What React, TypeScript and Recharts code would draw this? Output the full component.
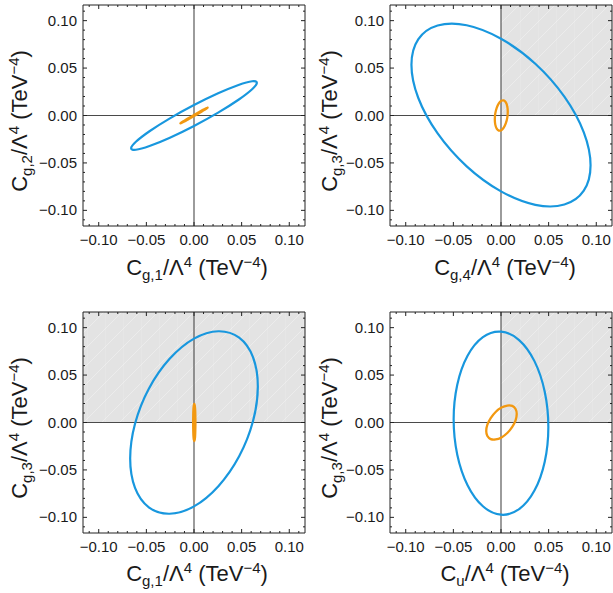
import { ComposedChart, Line, XAxis, YAxis, ReferenceLine, ReferenceArea } from 'recharts';

// axis range and ticks (same for every panel)
const DOMAIN: [number, number] = [-0.1165, 0.1165];
const TICKS = [
  -0.11, -0.1, -0.09, -0.08, -0.07, -0.06, -0.05, -0.04, -0.03, -0.02, -0.01, 0,
  0.01, 0.02, 0.03, 0.04, 0.05, 0.06, 0.07, 0.08, 0.09, 0.1, 0.11,
];
const MAJOR_TICKS = [-0.1, -0.05, 0, 0.05, 0.1];

// contour points, [x, y]
const TL_BLUE = [
  [0.066, 0.0345], [0.061, 0.0361], [0.0467, 0.0322], [0.0253, 0.0234],
  [0.0, 0.011], [-0.0253, -0.003], [-0.0467, -0.0166], [-0.061, -0.0277],
  [-0.066, -0.0345], [-0.061, -0.0361], [-0.0467, -0.0322], [-0.0253, -0.0234],
  [0.0, -0.011], [0.0253, 0.003], [0.0467, 0.0166], [0.061, 0.0277],
];
const TL_ORANGE = [
  [0.0143, 0.0082], [0.0132, 0.0078], [0.0101, 0.0062], [0.0055, 0.0036],
  [0.0, 0.0005], [-0.0055, -0.0027], [-0.0101, -0.0055], [-0.0132, -0.0074],
  [-0.0143, -0.0082], [-0.0132, -0.0078], [-0.0101, -0.0062], [-0.0055, -0.0036],
  [0.0, -0.0005], [0.0055, 0.0027], [0.0101, 0.0055], [0.0132, 0.0074],
];
const TR_BLUE = [
  [0.094, -0.0525], [0.0869, -0.0177], [0.0665, 0.0199], [0.036, 0.0546],
  [0.0, 0.081], [-0.036, 0.0952], [-0.0665, 0.0949], [-0.0869, 0.0803],
  [-0.094, 0.0535], [-0.0869, 0.0187], [-0.0665, -0.0189], [-0.036, -0.0536],
  [0.0, -0.08], [0.036, -0.0942], [0.0665, -0.0939], [0.0869, -0.0793],
];
const TR_ORANGE = [
  [0.0071, 0.004], [0.0066, 0.0096], [0.0051, 0.0138], [0.0029, 0.0159],
  [0.0003, 0.0155], [-0.0023, 0.0128], [-0.0045, 0.0081], [-0.006, 0.0022],
  [-0.0065, -0.004], [-0.006, -0.0096], [-0.0045, -0.0138], [-0.0023, -0.0159],
  [0.0003, -0.0155], [0.0029, -0.0128], [0.0051, -0.0081], [0.0066, -0.0022],
];
const BL_BLUE = [
  [0.067, 0.038], [0.0619, 0.0689], [0.0474, 0.0894], [0.0256, 0.0962],
  [0.0, 0.0884], [-0.0256, 0.0671], [-0.0474, 0.0356], [-0.0619, -0.0013],
  [-0.067, -0.038], [-0.0619, -0.0689], [-0.0474, -0.0894], [-0.0256, -0.0962],
  [0.0, -0.0884], [0.0256, -0.0671], [0.0474, -0.0356], [0.0619, 0.0013],
];
const BL_ORANGE = [
  [0.0015, 0.0], [0.0014, 0.0075], [0.0012, 0.0138], [0.0008, 0.018],
  [0.0003, 0.0195], [-0.0002, 0.018], [-0.0006, 0.0138], [-0.0008, 0.0075],
  [-0.0009, 0.0], [-0.0008, -0.0075], [-0.0006, -0.0138], [-0.0002, -0.018],
  [0.0003, -0.0195], [0.0008, -0.018], [0.0012, -0.0138], [0.0014, -0.0075],
];
const BR_BLUE = [
  [0.0497, -0.0047], [0.0459, 0.0325], [0.0351, 0.0647], [0.019, 0.0869],
  [0.0, 0.0958], [-0.019, 0.09], [-0.0351, 0.0704], [-0.0459, 0.0399],
  [-0.0497, 0.0033], [-0.0459, -0.0339], [-0.0351, -0.0661], [-0.019, -0.0883],
  [0.0, -0.0972], [0.019, -0.0914], [0.0351, -0.0718], [0.0459, -0.0413],
];
const BR_ORANGE = [
  [0.0165, 0.009], [0.0153, 0.0143], [0.0118, 0.0175], [0.0066, 0.0179],
  [0.0005, 0.0157], [-0.0056, 0.0111], [-0.0108, 0.0047], [-0.0143, -0.0023],
  [-0.0155, -0.009], [-0.0143, -0.0143], [-0.0108, -0.0175], [-0.0056, -0.0179],
  [0.0005, -0.0157], [0.0066, -0.0111], [0.0118, -0.0047], [0.0153, 0.0023],
];

const BLUE = '#1897de';
const ORANGE = '#f29810';
const FRAME = '#222';
const FONT = '"Liberation Sans", Arial, sans-serif';

const toPoints = (a: number[][]) => a.map(([x, y]) => ({ x, y }));
const isMajor = (v: number) => MAJOR_TICKS.some((m) => Math.abs(m - v) < 1e-9);
const fmt = (v: number) => (v < 0 ? '\u2212' : '') + Math.abs(v).toFixed(2);

// closed Catmull-Rom curve so the contours come out smooth and closed
const closedCurve = (context: any) => {
  let pts: [number, number][] = [];
  return {
    areaStart() {},
    areaEnd() {},
    lineStart() {
      pts = [];
    },
    point(x: number, y: number) {
      pts.push([x, y]);
    },
    lineEnd() {
      const n = pts.length;
      if (!n) return;
      context.moveTo(pts[0][0], pts[0][1]);
      for (let i = 0; i < n; i++) {
        const p0 = pts[(i - 1 + n) % n];
        const p1 = pts[i];
        const p2 = pts[(i + 1) % n];
        const p3 = pts[(i + 2) % n];
        context.bezierCurveTo(
          p1[0] + (p2[0] - p0[0]) / 6,
          p1[1] + (p2[1] - p0[1]) / 6,
          p2[0] - (p3[0] - p1[0]) / 6,
          p2[1] - (p3[1] - p1[1]) / 6,
          p2[0],
          p2[1],
        );
      }
      context.closePath();
    },
  };
};

const makeTick = (side: 'bottom' | 'top' | 'left' | 'right') => (props: any) => {
  const { x, y, payload } = props;
  const v = payload.value;
  const major = isMajor(v);
  const len = major ? 4 : 2;
  let line;
  if (side === 'bottom') line = { x1: x, y1: y, x2: x, y2: y - len };
  else if (side === 'top') line = { x1: x, y1: y, x2: x, y2: y + len };
  else if (side === 'left') line = { x1: x, y1: y, x2: x + len, y2: y };
  else line = { x1: x, y1: y, x2: x - len, y2: y };
  return (
    <g>
      <line {...line} stroke={FRAME} strokeWidth={1} />
      {major && side === 'bottom' && (
        <text x={x} y={y + 19} textAnchor="middle" fontSize={15} fontFamily={FONT} fill="#1a1a1a">
          {fmt(v)}
        </text>
      )}
      {major && side === 'left' && (
        <text x={x - 6} y={y + 5} textAnchor="end" fontSize={15} fontFamily={FONT} fill="#1a1a1a">
          {fmt(v)}
        </text>
      )}
    </g>
  );
};

const PLOT_W = 222;
const PLOT_H = 221;
const LEFT_W = 50;
const BOTTOM_H = 30;

type Shade = 'none' | 'quadrant' | 'upper';

interface PanelProps {
  id: string;
  left: number;
  top: number;
  blue: number[][];
  orange: number[][];
  shade: Shade;
}

function Panel({ id, left, top, blue, orange, shade }: PanelProps) {
  const axisCommon = {
    type: 'number' as const,
    domain: DOMAIN,
    allowDataOverflow: true,
    ticks: TICKS,
    interval: 0 as const,
    tickSize: 0,
    tickMargin: 0,
    tickLine: false,
    axisLine: { stroke: FRAME, strokeWidth: 1 },
  };
  return (
    <div style={{ position: 'absolute', left, top }}>
      <ComposedChart
        width={LEFT_W + PLOT_W + 1}
        height={1 + PLOT_H + BOTTOM_H}
        margin={{ top: 0, right: 0, bottom: 0, left: 0 }}
      >
        <defs>
          <pattern id={`hatch-${id}`} width={18} height={18} patternUnits="userSpaceOnUse">
            <rect width={18} height={18} fill="#e3e3e3" />
            <path d="M0,18 L18,0" stroke="#ffffff" strokeOpacity={0.45} strokeWidth={0.7} />
            <path d="M0,0 L0,18" stroke="#ffffff" strokeOpacity={0.3} strokeWidth={0.7} />
          </pattern>
        </defs>
        <XAxis xAxisId="b" dataKey="x" orientation="bottom" height={BOTTOM_H} {...axisCommon} tick={makeTick('bottom')} />
        <XAxis xAxisId="t" dataKey="x" orientation="top" height={1} {...axisCommon} tick={makeTick('top')} />
        <YAxis yAxisId="l" dataKey="y" orientation="left" width={LEFT_W} {...axisCommon} tick={makeTick('left')} />
        <YAxis yAxisId="r" dataKey="y" orientation="right" width={1} {...axisCommon} tick={makeTick('right')} />
        {shade === 'quadrant' && (
          <ReferenceArea
            xAxisId="b"
            yAxisId="l"
            x1={0}
            x2={DOMAIN[1]}
            y1={0}
            y2={DOMAIN[1]}
            fill={`url(#hatch-${id})`}
            fillOpacity={1}
            stroke="none"
          />
        )}
        {shade === 'upper' && (
          <ReferenceArea
            xAxisId="b"
            yAxisId="l"
            x1={DOMAIN[0]}
            x2={DOMAIN[1]}
            y1={0}
            y2={DOMAIN[1]}
            fill={`url(#hatch-${id})`}
            fillOpacity={1}
            stroke="none"
          />
        )}
        <ReferenceLine xAxisId="b" yAxisId="l" x={0} stroke="#4a4a4a" strokeWidth={1.1} />
        <ReferenceLine xAxisId="b" yAxisId="l" y={0} stroke="#4a4a4a" strokeWidth={1.1} />
        <Line
          xAxisId="b"
          yAxisId="l"
          data={toPoints(blue)}
          dataKey="y"
          type={closedCurve as any}
          stroke={BLUE}
          strokeWidth={2.2}
          dot={false}
          activeDot={false}
          isAnimationActive={false}
        />
        <Line
          xAxisId="b"
          yAxisId="l"
          data={toPoints(orange)}
          dataKey="y"
          type={closedCurve as any}
          stroke={ORANGE}
          strokeWidth={2.3}
          dot={false}
          activeDot={false}
          isAnimationActive={false}
        />
      </ComposedChart>
    </div>
  );
}

function Title({ sub, x, y, rotate }: { sub: string; x: number; y: number; rotate?: boolean }) {
  return (
    <text
      x={x}
      y={y}
      textAnchor="middle"
      fontSize={22}
      fontFamily={FONT}
      fill="#1a1a1a"
      transform={rotate ? `rotate(-90 ${x} ${y})` : undefined}
    >
      C
      <tspan dy={5} fontSize={15}>{sub}</tspan>
      <tspan dy={-5}>/Λ</tspan>
      <tspan dy={-8} fontSize={15}>4</tspan>
      <tspan dy={8}>{' (TeV'}</tspan>
      <tspan dy={-8} fontSize={15}>{'\u22124'}</tspan>
      <tspan dy={8}>)</tspan>
    </text>
  );
}

export default function App() {
  return (
    <div style={{ position: 'absolute', left: 0, top: 0, width: 613, height: 593, background: '#fff' }}>
      <Panel id="tl" left={33} top={4} blue={TL_BLUE} orange={TL_ORANGE} shade="none" />
      <Panel id="tr" left={340} top={4} blue={TR_BLUE} orange={TR_ORANGE} shade="quadrant" />
      <Panel id="bl" left={33} top={311} blue={BL_BLUE} orange={BL_ORANGE} shade="upper" />
      <Panel id="br" left={340} top={311} blue={BR_BLUE} orange={BR_ORANGE} shade="quadrant" />
      <svg
        width={613}
        height={593}
        style={{ position: 'absolute', left: 0, top: 0, pointerEvents: 'none' }}
      >
        <Title sub="g,1" x={197} y={275} />
        <Title sub="g,2" x={27} y={121} rotate />
        <Title sub="g,4" x={505} y={275} />
        <Title sub="g,3" x={337} y={121} rotate />
        <Title sub="g,1" x={197} y={581} />
        <Title sub="g,3" x={27} y={428} rotate />
        <Title sub="u" x={505} y={581} />
        <Title sub="g,3" x={337} y={428} rotate />
      </svg>
    </div>
  );
}
